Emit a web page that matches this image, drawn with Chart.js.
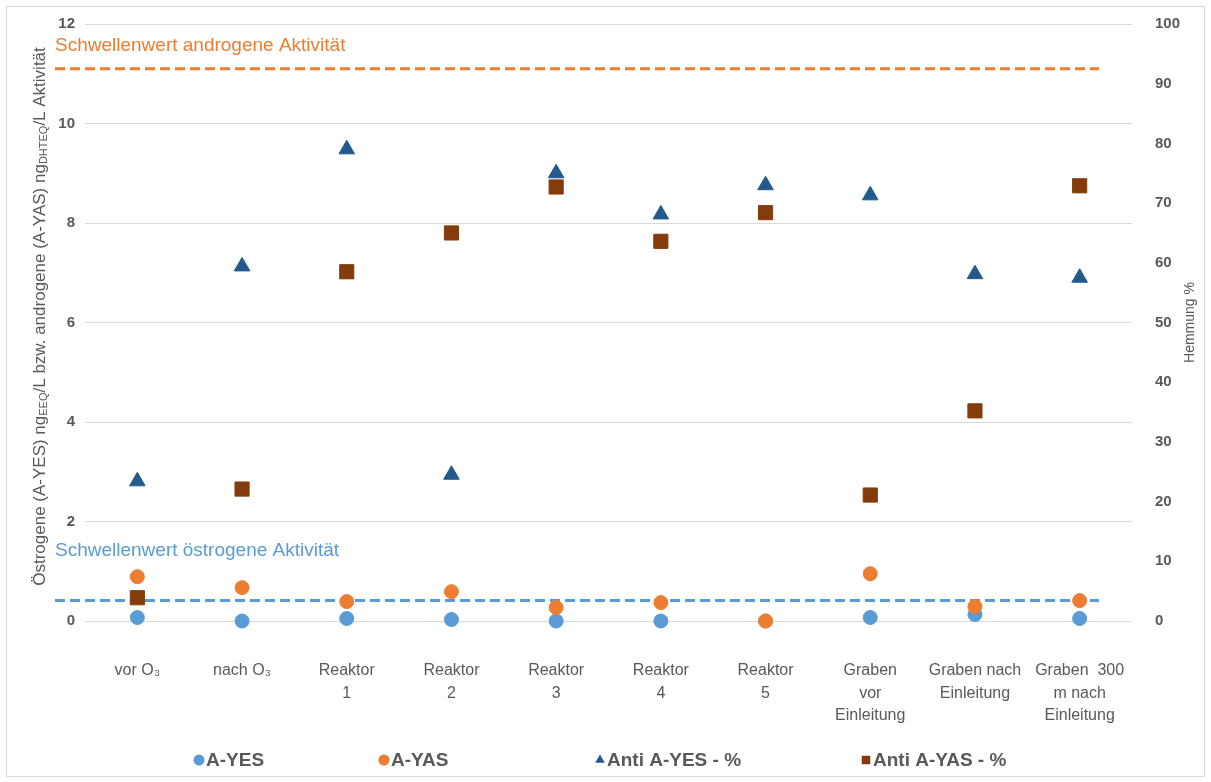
<!DOCTYPE html>
<html>
<head>
<meta charset="utf-8">
<script src="https://cdn.jsdelivr.net/npm/chart.js@4.4.1/dist/chart.umd.min.js"></script>
<style>
  html, body { margin: 0; padding: 0; background: #fff; }
  #wrap { width: 1211px; height: 782px; position: relative; }
</style>
</head>
<body>
<div id="wrap"><canvas id="myChart"></canvas></div>
<script>
// data
const categories = [
  ["vor O₃"], ["nach O₃"], ["Reaktor", "1"], ["Reaktor", "2"], ["Reaktor", "3"],
  ["Reaktor", "4"], ["Reaktor", "5"], ["Graben", "vor", "Einleitung"],
  ["Graben nach", "Einleitung"], ["Graben  300", "m nach", "Einleitung"]
];
const aYES = [0.07, 0.0, 0.05, 0.03, 0.0, 0.0, 0.0, 0.07, 0.13, 0.05];
const aYAS = [0.89, 0.67, 0.39, 0.59, 0.27, 0.37, 0.0, 0.95, 0.29, 0.41];
const antiAYES = [23.4, 59.4, 79.0, 24.5, 75.0, 68.1, 73.0, 71.3, 58.1, 57.5];
const antiAYAS = [3.9, 22.1, 58.5, 65.0, 72.7, 63.6, 68.4, 21.1, 35.2, 72.9];
const leftTicks = [0, 2, 4, 6, 8, 10, 12];
const rightTicks = [0, 10, 20, 30, 40, 50, 60, 70, 80, 90, 100];
const thresholdAndrogen = 11.1;
const thresholdOestrogen = 0.41;

const GRAY = "#595959";
const FONT = "'Liberation Sans', Arial, sans-serif";

const leftTitle = [
  ["Östrogene (A-YES) ng"], ["EEQ", true], ["/L bzw. androgene (A-YAS) ng"],
  ["DHTEQ", true], ["/L Aktivität"]
];

function drawRich(ctx, parts, size) {
  const subSize = Math.round(size * 0.65);
  let total = 0;
  parts.forEach(p => {
    ctx.font = (p[1] ? subSize : size) + "px " + FONT;
    total += ctx.measureText(p[0]).width;
  });
  let x = -total / 2;
  parts.forEach(p => {
    ctx.font = (p[1] ? subSize : size) + "px " + FONT;
    ctx.fillText(p[0], x, p[1] ? 4 : 0);
    x += ctx.measureText(p[0]).width;
  });
}

function thresholdLine(ctx, area, y, color, label, labelY) {
  ctx.save();
  ctx.strokeStyle = color;
  ctx.lineWidth = 3;
  ctx.setLineDash([10, 5]);
  ctx.beginPath();
  ctx.moveTo(area.left - 30, y);
  ctx.lineTo(area.right - 33, y);
  ctx.stroke();
  ctx.setLineDash([]);
  ctx.fillStyle = color;
  ctx.font = "19px " + FONT;
  ctx.textBaseline = "middle";
  ctx.fillText(label, area.left - 30, labelY);
  ctx.restore();
}

const decor = {
  id: "decor",
  beforeDraw(chart) {
    const ctx = chart.ctx;
    ctx.save();
    ctx.strokeStyle = "#d9d9d9";
    ctx.lineWidth = 1;
    ctx.strokeRect(6.5, 6.5, chart.width - 13, chart.height - 12);
    ctx.restore();
  },
  beforeDatasetsDraw(chart) {
    const ctx = chart.ctx, area = chart.chartArea, y = chart.scales.y;
    const yA = y.getPixelForValue(thresholdAndrogen);
    const yO = y.getPixelForValue(thresholdOestrogen);
    thresholdLine(ctx, area, yA, "#ED7D31", "Schwellenwert androgene Aktivität", yA - 23);
    thresholdLine(ctx, area, yO, "#5B9BD5", "Schwellenwert östrogene Aktivität", yO - 50);
  },
  afterDraw(chart) {
    const ctx = chart.ctx, area = chart.chartArea;
    const midY = (area.top + area.bottom) / 2;
    ctx.save();
    ctx.fillStyle = GRAY;
    ctx.textBaseline = "middle";
    // left axis title with subscripts
    ctx.save();
    ctx.translate(40, midY - 6);
    ctx.rotate(-Math.PI / 2);
    drawRich(ctx, leftTitle, 17);
    ctx.restore();
    // right axis title
    ctx.save();
    ctx.translate(1190, midY);
    ctx.rotate(-Math.PI / 2);
    ctx.font = "14px " + FONT;
    ctx.textAlign = "center";
    ctx.fillText("Hemmung %", 0, 0);
    ctx.restore();
    // legend
    const legendX = [199, 384, 600, 866];
    const legendY = 760;
    ctx.font = "bold 19px " + FONT;
    chart.data.datasets.forEach((ds, i) => {
      ctx.fillStyle = ds.backgroundColor;
      ctx.strokeStyle = ds.backgroundColor;
      Chart.helpers.drawPoint(ctx, {
        pointStyle: ds.pointStyle, radius: ds.pointStyle === "rect" ? 6 : 5.5,
        rotation: 0, borderWidth: 0
      }, legendX[i], legendY);
      ctx.fillStyle = GRAY;
      ctx.fillText(ds.label, legendX[i] + 7, legendY + 1);
    });
    ctx.restore();
  }
};

new Chart(document.getElementById("myChart"), {
  type: "line",
  data: {
    labels: categories,
    datasets: [
      {
        label: "A-YES", data: aYES, yAxisID: "y", order: 4,
        pointStyle: "circle", pointRadius: 7, backgroundColor: "#5B9BD5", borderColor: "#5B9BD5",
      },
      {
        label: "A-YAS", data: aYAS, yAxisID: "y", order: 3,
        pointStyle: "circle", pointRadius: 7, backgroundColor: "#ED7D31", borderColor: "#ED7D31",
      },
      {
        label: "Anti A-YES - %", data: antiAYES, yAxisID: "y1", order: 2,
        pointStyle: "triangle", pointRadius: 9, backgroundColor: "#225A8C", borderColor: "#225A8C",
      },
      {
        label: "Anti A-YAS - %", data: antiAYAS, yAxisID: "y1", order: 1,
        pointStyle: "rect", pointRadius: 10, backgroundColor: "#843C0C", borderColor: "#843C0C",
      },
    ],
  },
  options: {
    responsive: true,
    maintainAspectRatio: false,
    animation: false,
    showLine: false,
    clip: false,
    layout: { padding: { left: 50, right: 29, top: 14, bottom: 51 } },
    elements: { point: { borderWidth: 1 } },
    plugins: {
      legend: { display: false },
      tooltip: { enabled: false },
    },
    scales: {
      x: {
        type: "category",
        offset: true,
        grid: { display: false },
        border: { display: false },
        ticks: {
          color: GRAY, font: { family: FONT, size: 16, lineHeight: 1.38 },
          padding: 31, maxRotation: 0, autoSkip: false,
        },
        afterFit: (s) => { s.height = 110; },
      },
      y: {
        position: "left",
        min: 0, max: 12,
        afterBuildTicks: (s) => { s.ticks = leftTicks.map(v => ({ value: v })); },
        grid: { color: "#d9d9d9", drawTicks: false },
        border: { display: false },
        ticks: { color: GRAY, font: { family: FONT, size: 15, weight: "bold" }, padding: 10 },
        afterFit: (s) => { s.width = 35; },
      },
      y1: {
        position: "right",
        min: 0, max: 100,
        afterBuildTicks: (s) => { s.ticks = rightTicks.map(v => ({ value: v })); },
        grid: { display: false },
        border: { display: false },
        ticks: { color: GRAY, font: { family: FONT, size: 15, weight: "bold" }, padding: 15 },
        afterFit: (s) => { s.width = 50; },
      },
    },
  },
  plugins: [decor],
});
</script>
</body>
</html>
